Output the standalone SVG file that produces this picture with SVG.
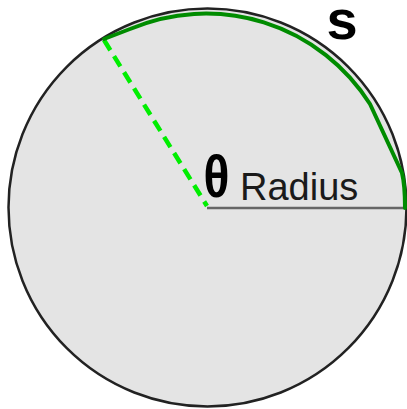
<svg xmlns="http://www.w3.org/2000/svg" width="407" height="409" viewBox="0 0 407 409">
<style>
.lbl{font-family:"Liberation Sans",Arial,sans-serif;fill:#1a1a1a}
.b{font-weight:bold;fill:#000}
</style>
<rect width="407" height="409" fill="#ffffff"/>
<g id="circle">
<circle cx="207.5" cy="207.5" r="199" fill="#e4e4e4" stroke="#222" stroke-width="2.5"/>
</g>
<g id="connectors" fill="none">
<line x1="207" y1="208" x2="406" y2="208" stroke="#666" stroke-width="2.5"/>
<line x1="104" y1="40" x2="207" y2="206" stroke="#00ee00" stroke-width="4.5" stroke-dasharray="12 7"/>
<path d="M104,39 L130,29 A194,194 0 0 1 370,104 L402,173 Q405,185 405,208" stroke="#008c00" stroke-width="4" stroke-linejoin="round" stroke-linecap="round"/>
</g>
<g id="labels">
<text class="lbl b" font-size="60" text-anchor="middle" transform="translate(216.5,197) scale(0.8,1)">θ</text>
<text class="lbl" x="240" y="200" font-size="38">Radius</text>
<text class="lbl b" x="342" y="38.5" font-size="56" text-anchor="middle">s</text>
</g>
</svg>
